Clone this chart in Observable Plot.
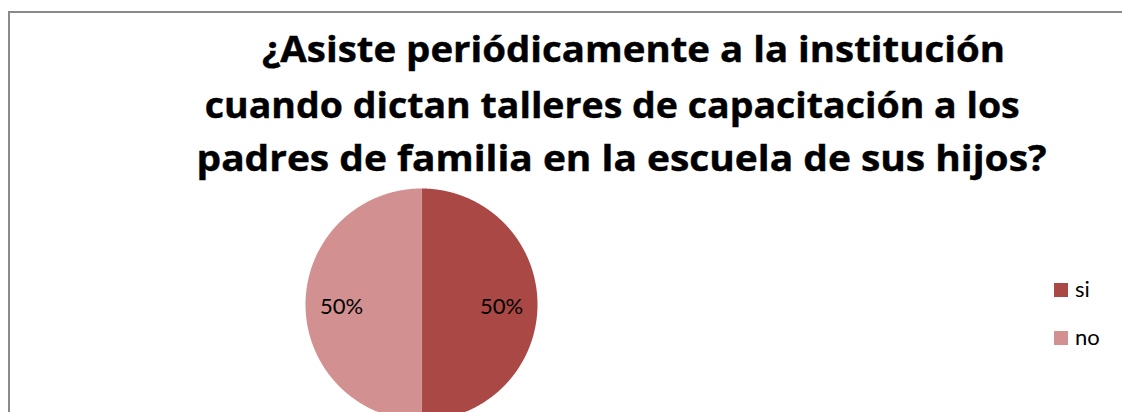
<!DOCTYPE html>
<html>
<head>
<meta charset="utf-8">
<script src="https://cdn.jsdelivr.net/npm/d3@7"></script>
<script src="https://cdn.jsdelivr.net/npm/@observablehq/plot@0.6"></script>
<style>
  html, body { margin: 0; padding: 0; background: #fff; overflow: hidden; }
  #page { position: relative; width: 1122px; height: 412px; overflow: hidden; font-family: Lato, "Open Sans", sans-serif; }
  #frameTop { position: absolute; left: 8px; top: 11px; width: 1114px; height: 2px; background: #8a8a8a; }
  #frameLeft { position: absolute; left: 8px; top: 11px; width: 2px; height: 401px; background: #8a8a8a; }
  .tline { position: absolute; white-space: nowrap; font-family: "Open Sans", sans-serif; font-weight: 700; font-size: 35px;
           line-height: 54px; height: 54px; color: #000; transform-origin: center center; -webkit-text-stroke: 0.4px #000; }
  #chart { position: absolute; left: 0; top: 185px; width: 1122px; }
  .lg-sw { position: absolute; width: 14px; height: 14px; }
  .lg-tx { position: absolute; font-size: 22px; line-height: 22px; color: #000; white-space: nowrap; }
</style>
</head>
<body>
<div id="page">
<div id="frameTop"></div>
<div id="frameLeft"></div>
<div id="title"></div>
<div id="chart"></div>
<div id="legend"></div>
</div>
<script>
// ---- data ----
const categories = ["si", "no"];
const values = [50, 50];
const valueLabels = ["50%", "50%"];
const colors = ["#AA4846", "#D29190"];
const titleLines = [
  "¿Asiste periódicamente a la institución",
  "cuando dictan talleres de capacitación a los",
  "padres de familia en la escuela de sus hijos?"
];

// ---- title (HTML, above the plot) ----
const titleCenters = [633, 612, 622];
const titleWidths = [743, 815, 850];
const titleTops = [22, 78, 131];
const titleDiv = document.getElementById("title");
titleLines.forEach((t, i) => {
  const s = document.createElement("div");
  s.className = "tline";
  s.textContent = t;
  titleDiv.appendChild(s);
  const w = s.getBoundingClientRect().width;
  s.style.left = (titleCenters[i] - w / 2) + "px";
  s.style.top = titleTops[i] + "px";
  s.style.transform = `scaleX(${titleWidths[i] / w})`;
});

// ---- pie geometry from data ----
const table = categories.map((c, i) => ({cat: c, value: values[i], label: valueLabels[i]}));
const arcs = d3.pie().sort(null).value(d => d.value)(table);
const polys = arcs.flatMap(a => {
  const n = Math.max(2, Math.ceil((a.endAngle - a.startAngle) / 0.005));
  const pts = [{cat: a.data.cat, x: 0, y: 0}];
  for (let i = 0; i <= n; i++) {
    const ang = a.startAngle + (a.endAngle - a.startAngle) * i / n;
    pts.push({cat: a.data.cat, x: Math.sin(ang), y: Math.cos(ang)});
  }
  pts.push({cat: a.data.cat, x: 0, y: 0});
  return pts;
});
const labelPts = arcs.map(a => {
  const m = (a.startAngle + a.endAngle) / 2;
  return {cat: a.data.cat, text: a.data.label, x: 0.69 * Math.sin(m), y: 0.69 * Math.cos(m)};
});

const plot = Plot.plot({
  width: 1122,
  height: 227,
  margin: 0,
  style: {background: "transparent", fontFamily: "Lato, sans-serif", overflow: "hidden"},
  x: {domain: [-1, 1], range: [305, 537], axis: null},
  y: {domain: [-1, 1], range: [235, 3], axis: null},
  color: {domain: categories, range: colors},
  marks: [
    Plot.line(polys, {x: "x", y: "y", z: "cat", fill: "cat", stroke: "none", curve: "linear"}),
    Plot.text(labelPts, {x: "x", y: "y", text: "text", fontSize: 22, fill: "#000", dy: 2})
  ]
});
document.getElementById("chart").appendChild(plot);

// ---- legend (HTML, beside the plot) ----
const legend = document.getElementById("legend");
const legendTops = [283, 331];
categories.forEach((c, i) => {
  const sw = document.createElement("div");
  sw.className = "lg-sw";
  sw.style.left = "1054px";
  sw.style.top = legendTops[i] + "px";
  sw.style.background = colors[i];
  legend.appendChild(sw);
  const tx = document.createElement("div");
  tx.className = "lg-tx";
  tx.style.left = "1075px";
  tx.style.top = (legendTops[i] - 5) + "px";
  tx.textContent = c;
  legend.appendChild(tx);
});
</script>
</body>
</html>
